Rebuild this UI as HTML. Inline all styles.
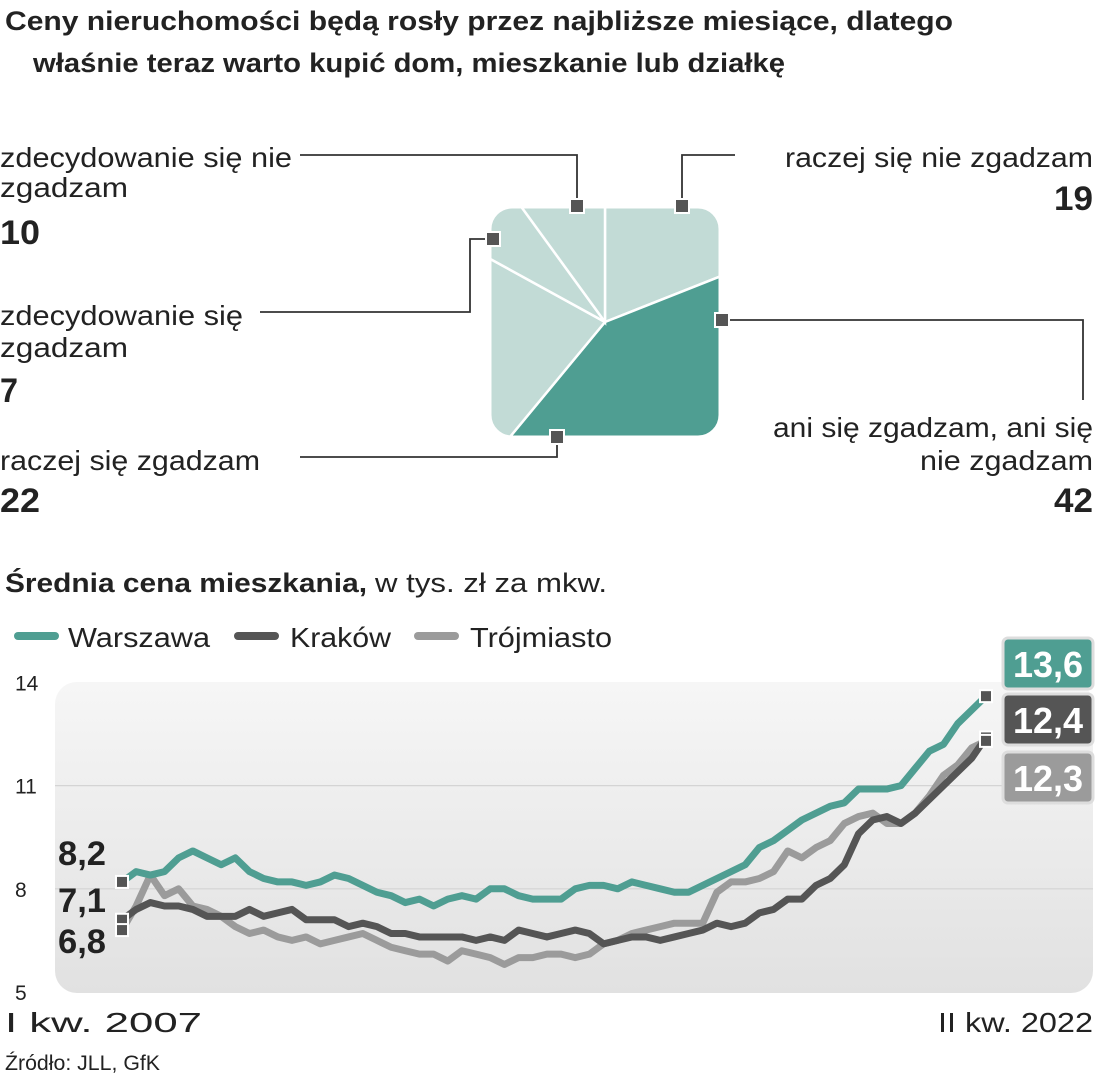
<!DOCTYPE html>
<html><head><meta charset="utf-8"><style>
html,body{margin:0;padding:0;background:#fff;}
svg{display:block;font-family:"Liberation Sans",sans-serif;}
</style></head><body>
<svg id="root" width="1104" height="1080" viewBox="0 0 1104 1080" xmlns="http://www.w3.org/2000/svg">
<defs>
<clipPath id="pieclip"><rect x="490" y="207" width="230" height="230" rx="22"/></clipPath>
<linearGradient id="bgg" x1="0" y1="0" x2="0" y2="1"><stop offset="0" stop-color="#f6f6f6"/><stop offset="1" stop-color="#e1e1e1"/></linearGradient>
</defs>
<g font-weight="bold" fill="#222" font-size="27">
<text x="5" y="30" textLength="948" lengthAdjust="spacingAndGlyphs">Ceny nieruchomości będą rosły przez najbliższe miesiące, dlatego</text>
<text x="33" y="72" textLength="752" lengthAdjust="spacingAndGlyphs">właśnie teraz warto kupić dom, mieszkanie lub działkę</text>
</g>
<g id="pie"></g>
<g fill="#222" font-size="28">
<text x="0" y="167" textLength="292" lengthAdjust="spacingAndGlyphs">zdecydowanie się nie</text>
<text x="0" y="197" textLength="128" lengthAdjust="spacingAndGlyphs">zgadzam</text>
<text x="0" y="244" font-weight="bold" font-size="34" textLength="40" lengthAdjust="spacingAndGlyphs">10</text>
<text x="0" y="325" textLength="243" lengthAdjust="spacingAndGlyphs">zdecydowanie się</text>
<text x="0" y="357" textLength="128" lengthAdjust="spacingAndGlyphs">zgadzam</text>
<text x="0" y="402" font-weight="bold" font-size="34" textLength="18" lengthAdjust="spacingAndGlyphs">7</text>
<text x="0" y="470" textLength="260" lengthAdjust="spacingAndGlyphs">raczej się zgadzam</text>
<text x="0" y="512" font-weight="bold" font-size="34" textLength="40" lengthAdjust="spacingAndGlyphs">22</text>
<text x="785" y="167" textLength="308" lengthAdjust="spacingAndGlyphs">raczej się nie zgadzam</text>
<text x="1054" y="210" font-weight="bold" font-size="34" textLength="39" lengthAdjust="spacingAndGlyphs">19</text>
<text x="773" y="437" textLength="320" lengthAdjust="spacingAndGlyphs">ani się zgadzam, ani się</text>
<text x="920" y="470" textLength="173" lengthAdjust="spacingAndGlyphs">nie zgadzam</text>
<text x="1054" y="512" font-weight="bold" font-size="34" textLength="39" lengthAdjust="spacingAndGlyphs">42</text>
</g>
<g stroke="#333" stroke-width="1.8" fill="none">
<polyline points="300,155 577,155 577,206"/>
<polyline points="735,155 682,155 682,206"/>
<polyline points="260,312 470,312 470,239 493,239"/>
<polyline points="722,320 1083,320 1083,400"/>
<polyline points="300,457 557,457 557,437"/>
</g>
<g fill="#555" stroke="#fff" stroke-width="2">
<rect x="570" y="199" width="14" height="14"/><rect x="675" y="199" width="14" height="14"/>
<rect x="486" y="232" width="14" height="14"/><rect x="715" y="313" width="14" height="14"/>
<rect x="550" y="430" width="14" height="14"/>
</g>
<g fill="#222" font-size="27">
<text x="5" y="592"><tspan font-weight="bold" textLength="362" lengthAdjust="spacingAndGlyphs">Średnia cena mieszkania,</tspan></text>
<text x="375" y="592" textLength="232" lengthAdjust="spacingAndGlyphs">w tys. zł za mkw.</text>
</g>
<g font-size="28" fill="#222">
<g><line x1="18" y1="636" x2="55" y2="636" stroke="#4f9e92" stroke-width="8" stroke-linecap="round"/><text x="68" y="647" textLength="142" lengthAdjust="spacingAndGlyphs">Warszawa</text></g>
<g><line x1="238" y1="636" x2="275" y2="636" stroke="#555" stroke-width="8" stroke-linecap="round"/><text x="290" y="647" textLength="101" lengthAdjust="spacingAndGlyphs">Kraków</text></g>
<g><line x1="418" y1="636" x2="455" y2="636" stroke="#9b9b9b" stroke-width="8" stroke-linecap="round"/><text x="470" y="647" textLength="142" lengthAdjust="spacingAndGlyphs">Trójmiasto</text></g>
</g>
<rect x="55" y="682" width="1038" height="311" rx="22" fill="url(#bgg)"/>
<g id="axes"></g>
<g id="series"></g>
<g fill="#222" font-size="28">
<text x="5" y="1032" textLength="197" lengthAdjust="spacingAndGlyphs">I kw. 2007</text>
<text x="938" y="1032" textLength="155" lengthAdjust="spacingAndGlyphs">II kw. 2022</text>
</g>
<g fill="#222" font-weight="bold" font-size="34">
<text x="58" y="865" textLength="48" lengthAdjust="spacingAndGlyphs">8,2</text>
<text x="58" y="912" textLength="48" lengthAdjust="spacingAndGlyphs">7,1</text>
<text x="58" y="953" textLength="48" lengthAdjust="spacingAndGlyphs">6,8</text>
</g>
<g font-weight="bold" font-size="36" fill="#fff" text-anchor="middle">
<rect x="1003" y="638" width="90" height="51" rx="5" fill="#4f9e92" stroke="#ddd" stroke-width="3"/>
<text x="1048" y="677">13,6</text>
<rect x="1003" y="694" width="90" height="51" rx="5" fill="#555" stroke="#ddd" stroke-width="3"/>
<text x="1048" y="733">12,4</text>
<rect x="1003" y="752" width="90" height="51" rx="5" fill="#9b9b9b" stroke="#ddd" stroke-width="3"/>
<text x="1048" y="791">12,3</text>
</g>
<text x="5" y="1070" font-size="21" fill="#222" textLength="155" lengthAdjust="spacingAndGlyphs">Źródło: JLL, GfK</text>
</svg>
<script>
const pieLabels = ["raczej się nie zgadzam","ani się zgadzam, ani się nie zgadzam","raczej się zgadzam","zdecydowanie się zgadzam","zdecydowanie się nie zgadzam"];
const pieValues = [19,42,22,7,10];
const yTicks = [5,8,11,14];
const quarters = 62;
const warszawa = [8.2,8.5,8.4,8.5,8.9,9.1,8.9,8.7,8.9,8.5,8.3,8.2,8.2,8.1,8.2,8.4,8.3,8.1,7.9,7.8,7.6,7.7,7.5,7.7,7.8,7.7,8.0,8.0,7.8,7.7,7.7,7.7,8.0,8.1,8.1,8.0,8.2,8.1,8.0,7.9,7.9,8.1,8.3,8.5,8.7,9.2,9.4,9.7,10.0,10.2,10.4,10.5,10.9,10.9,10.9,11.0,11.5,12.0,12.2,12.8,13.2,13.6];
const krakow = [7.1,7.4,7.6,7.5,7.5,7.4,7.2,7.2,7.2,7.4,7.2,7.3,7.4,7.1,7.1,7.1,6.9,7.0,6.9,6.7,6.7,6.6,6.6,6.6,6.6,6.5,6.6,6.5,6.8,6.7,6.6,6.7,6.8,6.7,6.4,6.5,6.6,6.6,6.5,6.6,6.7,6.8,7.0,6.9,7.0,7.3,7.4,7.7,7.7,8.1,8.3,8.7,9.6,10.0,10.1,9.9,10.2,10.6,11.0,11.4,11.8,12.4];
const trojmiasto = [6.8,7.5,8.4,7.8,8.0,7.5,7.4,7.2,6.9,6.7,6.8,6.6,6.5,6.6,6.4,6.5,6.6,6.7,6.5,6.3,6.2,6.1,6.1,5.9,6.2,6.1,6.0,5.8,6.0,6.0,6.1,6.1,6.0,6.1,6.4,6.5,6.7,6.8,6.9,7.0,7.0,7.0,7.9,8.2,8.2,8.3,8.5,9.1,8.9,9.2,9.4,9.9,10.1,10.2,9.9,9.9,10.2,10.7,11.3,11.6,12.1,12.3];

const NS="http://www.w3.org/2000/svg";
function mk(t,a){const e=document.createElementNS(NS,t);for(const k in a)e.setAttribute(k,a[k]);return e;}
const X0=122,X1=986,Y0=992,PX=34.4;
function xs(i){return X0+(X1-X0)*i/(quarters-1);}
function ys(v){return Y0-(v-5)*PX;}

// pie
const pie=document.getElementById('pie');
const cx=605,cy=322,R=400;
const clipG=mk('g',{'clip-path':'url(#pieclip)'});
pie.appendChild(clipG);
let cum=0;const total=pieValues.reduce((a,b)=>a+b,0);
pieValues.forEach((v,i)=>{
  const a0=cum/total*2*Math.PI;cum+=v;const a1=cum/total*2*Math.PI;
  const p0=[cx+R*Math.sin(a0),cy-R*Math.cos(a0)],p1=[cx+R*Math.sin(a1),cy-R*Math.cos(a1)];
  const large=(a1-a0)>Math.PI?1:0;
  const s=mk('path',{d:`M${cx},${cy}L${p0[0]},${p0[1]}A${R},${R} 0 ${large} 1 ${p1[0]},${p1[1]}Z`,fill:i===1?'#4f9e92':'#c2dbd6',stroke:'#fff','stroke-width':2.5});
  
  
  clipG.appendChild(s);
});
const border=mk('rect',{x:490,y:207,width:230,height:230,rx:22,fill:'none',stroke:'#fff','stroke-width':3});


pie.appendChild(border);

// axes
const axes=document.getElementById('axes');
yTicks.forEach(t=>{
  if(t>5&&t<14){const l=mk('line',{x1:55,x2:1093,y1:ys(t),y2:ys(t),stroke:'#d4d4d4','stroke-width':1.2});
    
    
    axes.appendChild(l);}
  const tx=mk('text',{x:15,y:ys(t)+8,'font-size':21,fill:'#222'});tx.textContent=t;
  
  
  axes.appendChild(tx);
});

// series
const sg=document.getElementById('series');
[[trojmiasto,'#9b9b9b','trojmiasto'],[krakow,'#555','krakow'],[warszawa,'#4f9e92','warszawa']].forEach(([d,c,n])=>{
  const pl=mk('polyline',{points:d.map((v,i)=>xs(i)+','+ys(v)).join(' '),fill:'none',stroke:c,'stroke-width':7,'stroke-linejoin':'round'});
  
  
  sg.appendChild(pl);
});
[[warszawa,'warszawa'],[krakow,'krakow'],[trojmiasto,'trojmiasto']].forEach(([d,n])=>{
  [0,d.length-1].forEach(i=>{
    const r=mk('rect',{x:xs(i)-6,y:ys(d[i])-6,width:12,height:12,fill:'#555',stroke:'#fff','stroke-width':2});
    
    
    sg.appendChild(r);
  });
});
</script>
</body></html>
